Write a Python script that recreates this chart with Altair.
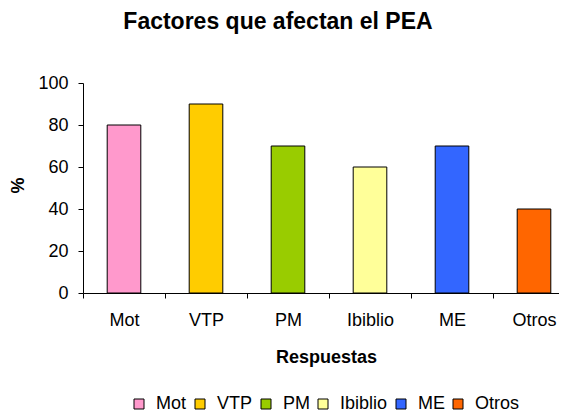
import altair as alt
import pandas as pd

categories = ["Mot", "VTP", "PM", "Ibiblio", "ME", "Otros"]
values = [80, 90, 70, 60, 70, 40]
colors = ["#FF99CC", "#FFCC00", "#99CC00", "#FFFF99", "#3366FF", "#FF6600"]

df = pd.DataFrame({"Respuesta": categories, "Valor": values})

FONT = "Liberation Sans"

chart = alt.Chart(df).mark_bar(
    stroke="black", strokeWidth=1, width=alt.RelativeBandSize(0.41)
).encode(
    x=alt.X("Respuesta:N", sort=categories,
            scale=alt.Scale(paddingInner=0, paddingOuter=0, range=[0, 492]),
            axis=alt.Axis(title="Respuestas", labelAngle=0, tickBand="extent",
                          titleX=243, titleY=69, titleAnchor="middle",
                          titleBaseline="alphabetic", labelPadding=13)),
    y=alt.Y("Valor:Q", scale=alt.Scale(domain=[0, 100]),
            axis=alt.Axis(title="%", values=[0, 20, 40, 60, 80, 100], grid=False,
                          labelPadding=10,
                          titleX=-56, titleY=102, titleAngle=-90, titleAnchor="middle")),
    color=alt.Color("Respuesta:N", sort=categories,
                    scale=alt.Scale(domain=categories, range=colors),
                    legend=alt.Legend(title=None, orient="none", direction="horizontal",
                                      legendX=47, legendY=312, symbolType="square",
                                      symbolSize=100, symbolStrokeColor="black",
                                      symbolStrokeWidth=1, labelFontSize=18,
                                      labelFont=FONT, labelColor="black",
                                      labelOffset=8, columnPadding=4)),
).properties(
    width=476, height=210,
    title=alt.TitleParams("Factores que afectan el PEA", fontSize=23, font=FONT,
                          fontWeight="bold", anchor="middle", dx=-43, offset=40,
                          color="black"),
    autosize=alt.AutoSizeParams(type="none"),
    padding={"left": 75, "top": 75, "right": 0, "bottom": 123},
).configure_view(stroke=None).configure_axis(
    domainColor="black", tickColor="black", labelColor="black", titleColor="black",
    labelFont=FONT, titleFont=FONT, labelFontSize=18, titleFontSize=18,
    titleFontWeight="bold", tickSize=5, domainWidth=1, tickWidth=1
)

chart.save("out.html", embed_options={"renderer": "svg", "actions": False})
